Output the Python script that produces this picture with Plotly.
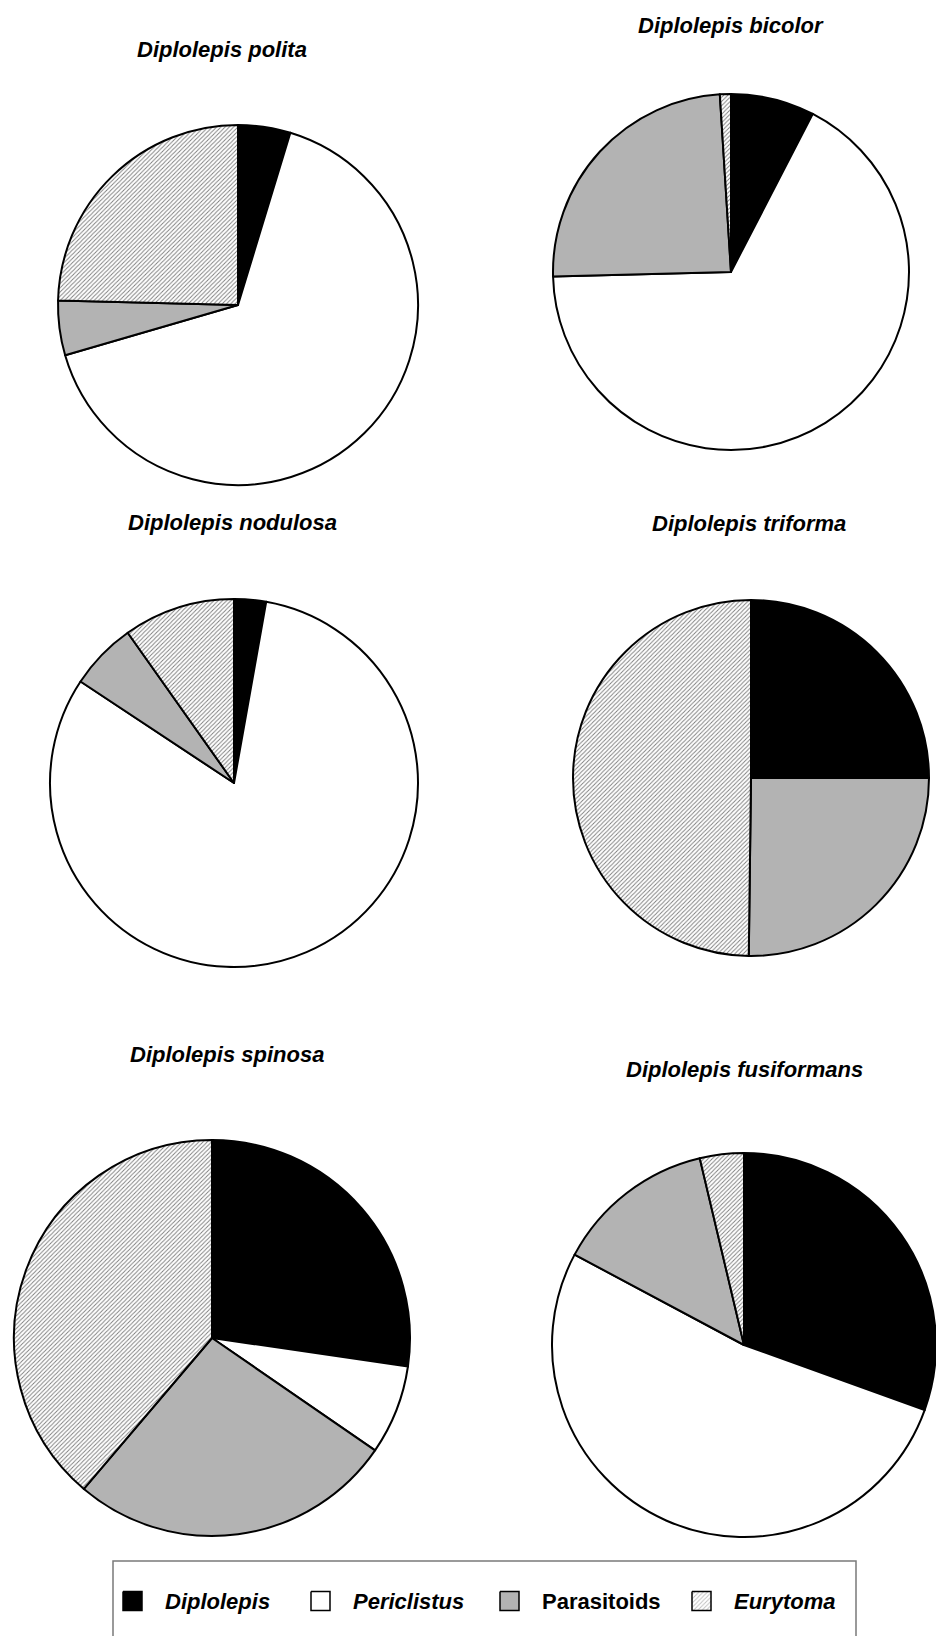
import plotly.graph_objects as go

W, H = 936, 1636

categories = ["Diplolepis", "Periclistus", "Parasitoids", "Eurytoma"]
italic_label = [True, True, False, True]
colors = ["#000000", "#ffffff", "#b3b3b3", "#ffffff"]
patterns = ["", "", "", "/"]

species = ["Diplolepis polita", "Diplolepis bicolor", "Diplolepis nodulosa",
           "Diplolepis triforma", "Diplolepis spinosa", "Diplolepis fusiformans"]

# percentages (clockwise from 12 o'clock): Diplolepis, Periclistus, Parasitoids, Eurytoma
polita = [4.7, 65.8, 4.9, 24.6]
bicolor = [7.6, 67.0, 24.4, 1.0]
nodulosa = [2.8, 81.5, 5.9, 9.8]
triforma = [25.0, 0.0, 25.2, 49.8]
spinosa = [27.3, 7.3, 26.6, 38.8]
fusiformans = [30.5, 52.3, 13.5, 3.7]
values = [polita, bicolor, nodulosa, triforma, spinosa, fusiformans]

# layout: pie centre (px), radius (px), title centre (px)
pie_cx = [238, 731, 234, 751, 212, 744]
pie_cy = [305, 272, 783, 778, 1338, 1345]
pie_r = [180, 178, 184, 178, 198, 192]
title_xy = [(222, 49), (731, 25), (232, 522), (749, 523), (227, 1054), (744, 1069)]

HATCH = dict(fg="#7c7c7c", size=3, solidity=0.3)
FONT = "Liberation Sans, Arial, Helvetica, sans-serif"

fig = go.Figure()

for name, vals, cx, cy, r in zip(species, values, pie_cx, pie_cy, pie_r):
    fig.add_trace(go.Pie(
        labels=categories, values=vals, name=name,
        sort=False, direction="clockwise", rotation=0,
        textinfo="none", hoverinfo="label+percent", showlegend=False,
        marker=dict(colors=colors,
                    line=dict(color="black", width=2),
                    pattern=dict(shape=patterns, fgcolor=HATCH["fg"],
                                 bgcolor=colors, size=HATCH["size"],
                                 solidity=HATCH["solidity"])),
        domain=dict(x=[(cx - r) / W, (cx + r) / W],
                    y=[1 - (cy + r) / H, 1 - (cy - r) / H]),
    ))

annotations = []
for name, (tx, ty) in zip(species, title_xy):
    annotations.append(dict(
        x=tx, y=ty, xref="x", yref="y", text=name, showarrow=False,
        xanchor="center", yanchor="middle",
        font=dict(family=FONT, size=22, color="black", weight="bold", style="italic")))

# legend (drawn in pixel coordinates)
leg_box = dict(x0=113, y0=1561, x1=856, y1=1660)
leg_x = [123, 311, 500, 692]
leg_y = 1601
sq = 19

shapes = [dict(type="rect", xref="x", yref="y", x0=leg_box["x0"], y0=leg_box["y0"],
               x1=leg_box["x1"], y1=leg_box["y1"],
               line=dict(color="#7a7a7a", width=1.5), fillcolor="rgba(0,0,0,0)")]

for cat, col, pat, it, lx in zip(categories, colors, patterns, italic_label, leg_x):
    x0, x1 = lx, lx + sq
    y0, y1 = leg_y - sq / 2, leg_y + sq / 2
    kw = {}
    if pat:
        kw["fillpattern"] = dict(shape=pat, fgcolor=HATCH["fg"], bgcolor=col,
                                 size=HATCH["size"], solidity=HATCH["solidity"])
    fig.add_trace(go.Scatter(
        x=[x0, x1, x1, x0, x0], y=[y0, y0, y1, y1, y0],
        mode="lines", fill="toself", fillcolor=col,
        line=dict(color="black", width=1.5), hoverinfo="skip", showlegend=False,
        **kw))
    annotations.append(dict(
        x=lx + 40, y=leg_y, xref="x", yref="y", text=cat, showarrow=False,
        xanchor="left", yanchor="middle",
        font=dict(family=FONT, size=22, color="black", weight="bold",
                  style="italic" if it else "normal")))

fig.update_layout(
    width=W, height=H,
    margin=dict(l=0, r=0, t=0, b=0),
    paper_bgcolor="white", plot_bgcolor="white",
    xaxis=dict(range=[0, W], visible=False, fixedrange=True, domain=[0, 1]),
    yaxis=dict(range=[H, 0], visible=False, fixedrange=True, domain=[0, 1]),
    annotations=annotations, shapes=shapes,
    showlegend=False,
)

fig.write_html("out.html")
